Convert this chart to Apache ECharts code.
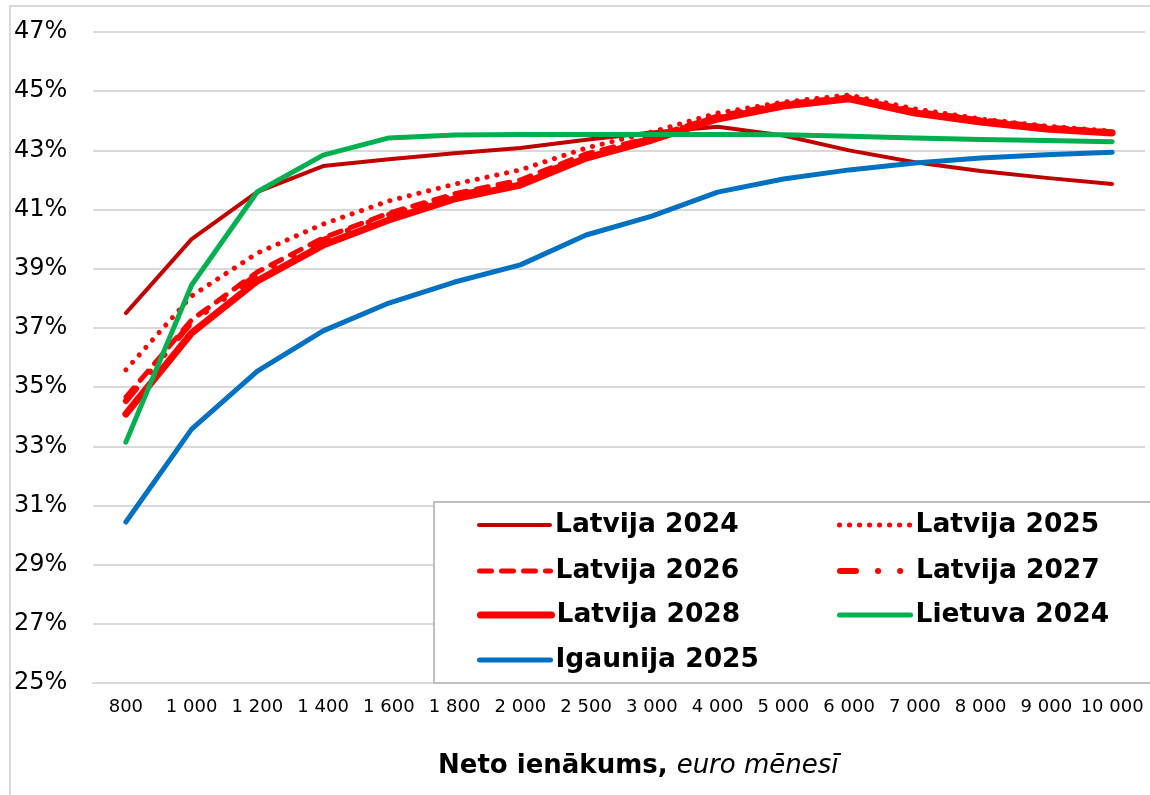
<!DOCTYPE html>
<html>
<head>
<meta charset="utf-8">
<script src="https://cdn.jsdelivr.net/npm/echarts@6/dist/echarts.min.js"></script>
<style>
  html, body { margin: 0; padding: 0; background: #fff; }
  #main { width: 1150px; height: 795px; }
</style>
</head>
<body>
<div id="main"></div>
<script>
// ienākumu grupas (x ass)
const categories = ['800', '1 000', '1 200', '1 400', '1 600', '1 800', '2 000', '2 500',
  '3 000', '4 000', '5 000', '6 000', '7 000', '8 000', '9 000', '10 000'];
const yTicks = [25, 27, 29, 31, 33, 35, 37, 39, 41, 43, 45, 47];

const lv2024 = [37.5, 40.0, 41.6, 42.47, 42.7, 42.9, 43.08, 43.36, 43.6, 43.8, 43.5, 43.0, 42.6, 42.3, 42.07, 41.86];
const lv2025 = [35.58, 38.08, 39.53, 40.51, 41.29, 41.86, 42.34, 43.08, 43.62, 44.26, 44.63, 44.87, 44.4, 44.06, 43.82, 43.65];
const lv2026 = [34.66, 37.27, 38.89, 40.04, 40.88, 41.53, 42.0, 42.88, 43.45, 44.16, 44.57, 44.8, 44.33, 44.03, 43.79, 43.62];
const lv2027 = [34.53, 37.2, 38.8, 39.97, 40.82, 41.46, 41.93, 42.81, 43.42, 44.13, 44.53, 44.77, 44.3, 44.0, 43.76, 43.6];
const lv2028 = [34.09, 36.83, 38.59, 39.8, 40.65, 41.36, 41.83, 42.74, 43.35, 44.06, 44.5, 44.74, 44.26, 43.96, 43.72, 43.59];
const lt2024 = [33.14, 38.45, 41.6, 42.84, 43.42, 43.52, 43.54, 43.54, 43.54, 43.54, 43.53, 43.48, 43.42, 43.37, 43.33, 43.29];
const ee2025 = [30.44, 33.58, 35.54, 36.9, 37.84, 38.55, 39.13, 40.14, 40.78, 41.59, 42.03, 42.34, 42.57, 42.74, 42.85, 42.94];

const FONT = "'DejaVu Sans', Verdana, sans-serif";
const gridGrey = '#d9d9d9';

// līniju stili
const styles = {
  'Latvija 2024': { color: '#C00000', width: 4, type: 'solid' },
  'Latvija 2025': { color: '#FF0000', width: 5, type: [0.1, 9.9] },
  'Latvija 2026': { color: '#FF0000', width: 5, type: [12, 10] },
  'Latvija 2027': { color: '#FF0000', width: 6, type: [16, 22, 0.1, 22, 0.1, 22] },
  'Latvija 2028': { color: '#FF0000', width: 7, type: 'solid' },
  'Lietuva 2024': { color: '#00B050', width: 5, type: 'solid' },
  'Igaunija 2025': { color: '#0070C0', width: 5, type: 'solid' }
};

let myChart = echarts.init(document.getElementById('main'));

function line(name, data) {
  const s = styles[name];
  return {
    name: name,
    type: 'line',
    data: data,
    symbol: 'none',
    animation: false,
    lineStyle: { color: s.color, width: s.width, type: s.type, cap: 'round', join: 'round' },
    itemStyle: { color: s.color }
  };
}

// legendas pozīcijas (2 kolonnas)
function leg(name, left, top) {
  const s = styles[name];
  return {
    data: [name],
    left: left,
    top: top,
    padding: 0,
    itemWidth: 71,
    itemHeight: 14,
    itemGap: 0,
    z: 10,
    itemStyle: { color: 'rgba(0,0,0,0)', borderWidth: 0, opacity: 0 },
    lineStyle: { color: s.color, width: s.width, type: s.type, cap: 'round' },
    textStyle: { fontFamily: FONT, fontWeight: 'bold', fontSize: 26.5, color: '#000', lineHeight: 30 }
  };
}

myChart.setOption({
  backgroundColor: '#fff',
  animation: false,
  title: {
    left: 433,
    top: 748,
    text: '{b|Neto ienākums, }{i|euro mēnesī}',
    textStyle: {
      rich: {
        b: { fontFamily: FONT, fontWeight: 'bold', fontSize: 26, color: '#000' },
        i: { fontFamily: FONT, fontWeight: 'normal', fontStyle: 'italic', fontSize: 26, color: '#000' }
      }
    }
  },
  graphic: [
    {
      type: 'rect', z: 0, silent: true,
      shape: { x: 10, y: 6, width: 1160, height: 820 },
      style: { fill: 'none', stroke: gridGrey, lineWidth: 2 }
    },
    {
      type: 'rect', z: 5, silent: true,
      shape: { x: 434, y: 502, width: 730, height: 181 },
      style: { fill: '#fff', stroke: '#bfbfbf', lineWidth: 2 }
    }
  ],
  legend: [
    leg('Latvija 2024', 477, 510),
    leg('Latvija 2025', 837, 510),
    leg('Latvija 2026', 477, 556),
    leg('Latvija 2027', 837, 556),
    leg('Latvija 2028', 477, 600),
    leg('Lietuva 2024', 837, 600),
    leg('Igaunija 2025', 477, 645)
  ],
  grid: { left: 93, right: 5, top: 32, bottom: 112, containLabel: false },
  xAxis: {
    type: 'category',
    data: categories,
    boundaryGap: true,
    axisLine: { show: true, lineStyle: { color: gridGrey, width: 2 } },
    axisTick: { show: false },
    axisLabel: { interval: 0, margin: 15, fontFamily: FONT, fontSize: 18, color: '#000' }
  },
  yAxis: {
    type: 'value',
    min: yTicks[0],
    max: yTicks[yTicks.length - 1],
    interval: 2,
    axisLine: { show: false },
    axisTick: { show: false },
    splitLine: { lineStyle: { color: gridGrey, width: 2 } },
    axisLabel: {
      formatter: '{value}%',
      align: 'left',
      margin: 79,
      fontFamily: FONT,
      fontSize: 24,
      color: '#000'
    }
  },
  series: [
    line('Latvija 2024', lv2024),
    line('Latvija 2025', lv2025),
    line('Latvija 2026', lv2026),
    line('Latvija 2027', lv2027),
    line('Latvija 2028', lv2028),
    line('Lietuva 2024', lt2024),
    line('Igaunija 2025', ee2025)
  ]
});
</script>
</body>
</html>
